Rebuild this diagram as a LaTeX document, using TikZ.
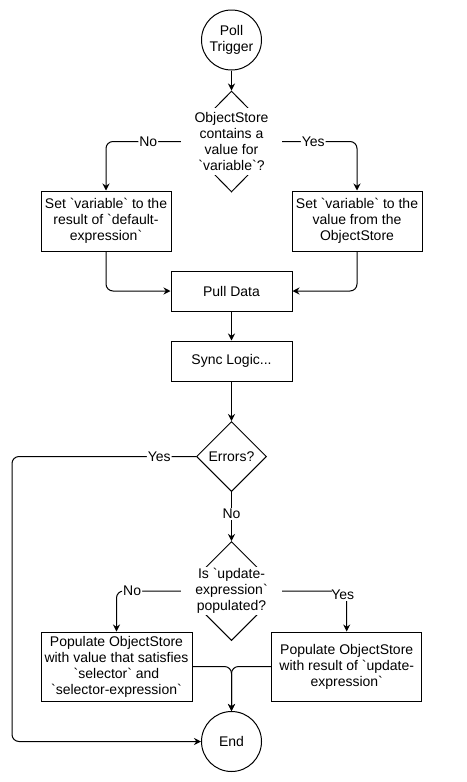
\documentclass[tikz,border=0pt]{standalone}
\usepackage{fontspec}
\setmainfont{Liberation Sans}[Ligatures=TeXOff]
\usetikzlibrary{shapes.geometric,arrows.meta}
\begin{document}
\begin{tikzpicture}[x=1pt,y=-1pt,
  every node/.style={font=\fontsize{14}{16}\selectfont},
  box/.style={draw, line width=1pt, rectangle, align=center, inner sep=0pt},
  term/.style={draw, line width=1pt, circle, minimum size=60pt, inner sep=0pt, align=center},
  dia/.style={draw, line width=1pt, diamond, aspect=1, inner sep=0pt},
  dtext/.style={fill=white, align=center, inner sep=0pt},
  conn/.style={line width=1pt, -{Stealth[length=7pt,width=7pt]}, rounded corners=7pt},
  lbl/.style={fill=white, inner sep=1pt}]
\useasboundingbox (0,0) rectangle (466,782);

\node[term] (poll) at (231.5,40) {Poll\\Trigger};
\node[dia, minimum width=99pt, minimum height=101pt] (d1) at (231.5,141.5) {};
\node[box, minimum width=130pt, minimum height=60pt] (setL) at (106,221) {Set `variable` to the\\result of `default-\\expression`};
\node[box, minimum width=130pt, minimum height=60pt] (setR) at (357,221) {Set `variable` to the\\value from the\\ObjectStore};
\node[box, minimum width=121pt, minimum height=40pt] (pull) at (231.5,291) {Pull Data};
\node[box, minimum width=121pt, minimum height=40pt] (sync) at (231.5,361) {Sync Logic...};
\node[dia, minimum width=70pt, minimum height=70pt] (err) at (231.5,456.5) {Errors?};
\node[dia, minimum width=99pt, minimum height=99pt] (d2) at (231.5,591) {};
\node[box, minimum width=151pt, minimum height=69pt] (popL) at (116.5,666.5) {Populate ObjectStore\\with value that satisfies\\`selector` and\\`selector-expression`};
\node[box, minimum width=150pt, minimum height=69pt] (popR) at (346.7,666.5) {Populate ObjectStore\\with result of `update-\\expression`};
\node[term] (end) at (231.5,741.5) {End};

\coordinate (lx) at (12,0);

\draw[conn] (poll) -- (d1);
\draw[conn] (d1.west) -| node[lbl,pos=0.22]{No} (setL.north);
\draw[conn] (d1.east) -| node[lbl,pos=0.21]{Yes} (setR.north);
\draw[conn] (setL.south) |- (pull.west);
\draw[conn] (setR.south) |- (pull.east);
\draw[conn] (pull) -- (sync);
\draw[conn] (sync) -- (err);
\draw[conn] (err.west) -- node[lbl,pos=0.2]{Yes} (err.west -| lx) |- (end.west);
\draw[conn] (err.south) -- node[lbl,pos=0.45]{No} (d2.north);
\draw[conn] (d2.west) -| node[lbl,pos=0.38]{No} (popL.north);
\draw[conn] (d2.east) -| node[lbl,pos=0.55,xshift=-4pt]{Yes} (popR.north);
\draw[conn] (popL.east) -| (end.north);
\draw[conn] (popR.west) -| (end.north);

\node[dtext, minimum width=101pt, minimum height=67pt] (d1t) at (d1.center) {ObjectStore\\contains a\\value for\\`variable`?};
\node[dtext, minimum width=101pt, minimum height=48pt] (d2t) at (d2.center) {Is `update-\\expression`\\populated?};
\end{tikzpicture}
\end{document}
